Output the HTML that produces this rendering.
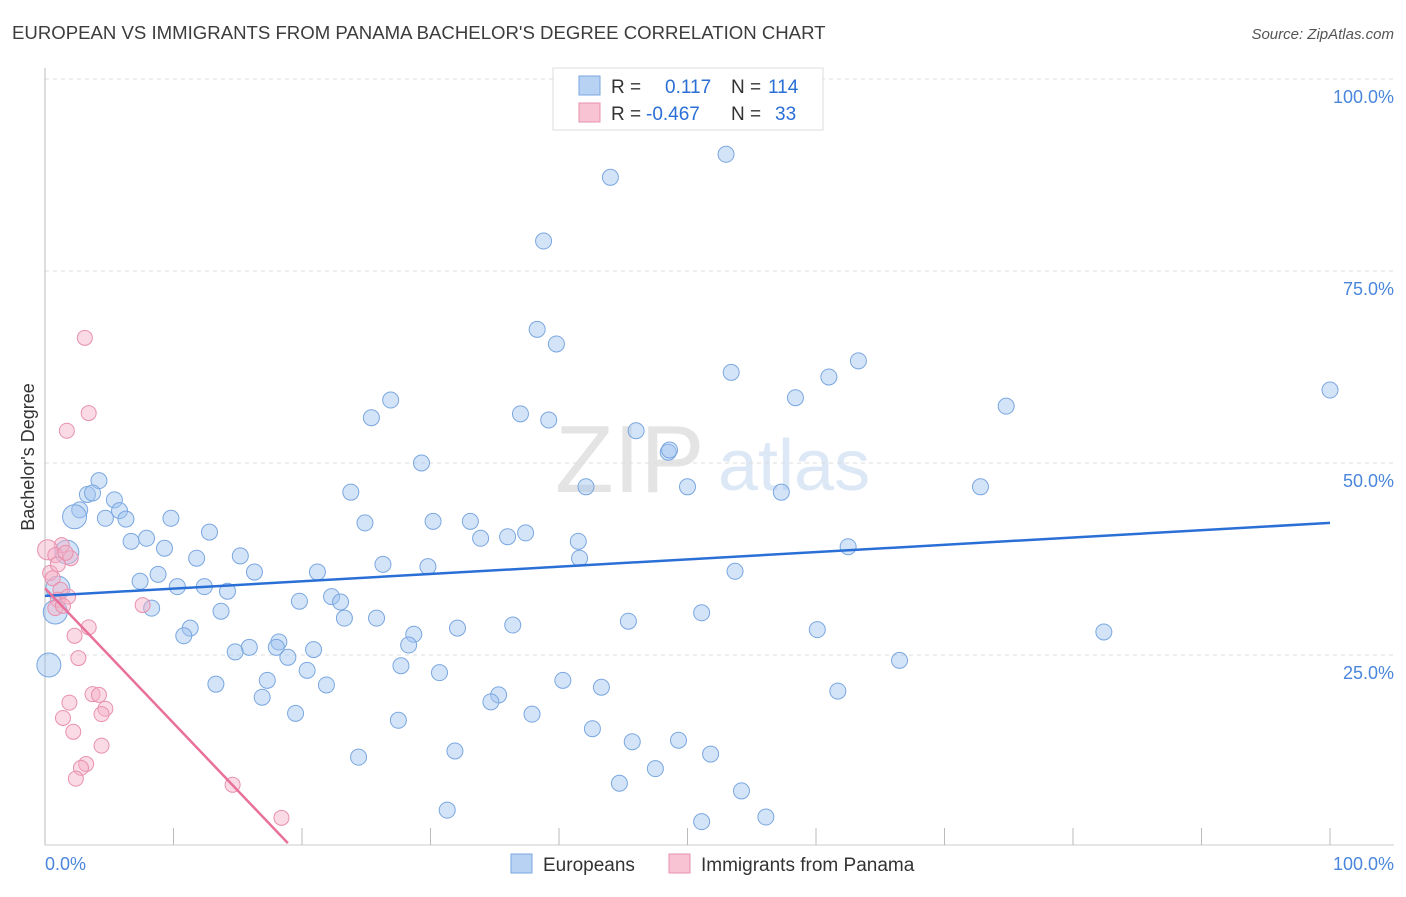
<!DOCTYPE html>
<html><head><meta charset="utf-8">
<style>
body{margin:0;background:#fff;font-family:"Liberation Sans",sans-serif;}
svg text{font-family:"Liberation Sans",sans-serif;}
</style></head>
<body>
<svg id="chart" width="1406" height="892" viewBox="0 0 1406 892" xmlns="http://www.w3.org/2000/svg">
<text x="12" y="39" font-size="18.6" fill="#3c3c3c">EUROPEAN VS IMMIGRANTS FROM PANAMA BACHELOR'S DEGREE CORRELATION CHART</text>
<text x="1394" y="39" font-size="15" fill="#555" font-style="italic" text-anchor="end">Source: ZipAtlas.com</text>
<text x="555" y="492" font-size="96" fill="#e4e4e4" font-family="Liberation Serif">ZIP</text>
<text x="718" y="490" font-size="72" fill="#dde8f6">atlas</text>
<text transform="translate(34,457) rotate(-90)" font-size="18" fill="#333" text-anchor="middle">Bachelor's Degree</text>
<g id="grid"></g>
<g id="axes"></g>
<g id="marks"></g>
<g>
<rect x="553" y="68" width="270" height="62" fill="#fff" stroke="#ddd"/>
<rect x="579" y="76" width="21" height="19" fill="#b8d2f4" stroke="#7aa7e0"/>
<rect x="579" y="103" width="21" height="19" fill="#f8c4d4" stroke="#e890ad"/>
<text x="611" y="93" font-size="19" fill="#333">R =</text>
<text x="665" y="93" font-size="19" fill="#2a6fd6">0.117</text>
<text x="731" y="93" font-size="19" fill="#333">N =</text>
<text x="768" y="93" font-size="19" fill="#2a6fd6">114</text>
<text x="611" y="120" font-size="19" fill="#333">R =</text>
<text x="646" y="120" font-size="19" fill="#2a6fd6">-0.467</text>
<text x="731" y="120" font-size="19" fill="#333">N =</text>
<text x="775" y="120" font-size="19" fill="#2a6fd6">33</text>
</g>
<g>
<rect x="511" y="854" width="21" height="19" fill="#b8d2f4" stroke="#7aa7e0"/>
<text x="543" y="871" font-size="19" fill="#333">Europeans</text>
<rect x="669" y="854" width="21" height="19" fill="#f8c4d4" stroke="#e890ad"/>
<text x="701" y="871" font-size="19" fill="#333">Immigrants from Panama</text>
</g>
</svg>
<script>
const blueX=[53.0,44.0,38.8,38.3,39.8,63.3,53.4,61.0,100,26.9,58.4,74.8,25.4,37.0,39.2,46.0,48.5,48.6,29.3,4.2,42.1,50.0,72.8,57.3,23.8,3.3,3.7,5.4,2.7,2.3,5.8,4.7,6.3,9.8,30.2,33.1,24.9,12.8,33.9,36.0,37.4,6.7,7.9,41.5,62.5,9.3,1.7,15.2,11.8,41.6,26.3,29.8,16.3,21.2,53.7,8.8,7.4,10.3,12.4,14.2,1.0,22.3,23.0,19.8,8.3,13.7,51.1,0.8,23.3,25.8,45.4,36.4,32.1,11.3,60.1,82.4,10.8,28.7,18.2,15.9,18.0,28.3,20.9,14.8,18.9,66.5,0.3,27.7,20.4,30.7,17.3,40.3,13.3,21.9,43.3,61.7,35.3,34.7,16.9,19.5,37.9,27.5,42.6,45.7,49.3,31.9,51.8,24.4,47.5,44.7,54.2,31.3,51.1,56.1];
const blueY=[90.2,87.2,78.9,67.4,65.5,63.3,61.8,61.2,59.5,58.2,58.5,57.4,55.9,56.4,55.6,54.2,51.4,51.7,50.0,47.7,46.9,46.9,46.9,46.2,46.2,45.9,46.1,45.2,43.9,43.0,43.8,42.8,42.7,42.8,42.4,42.4,42.2,41.0,40.2,40.4,40.9,39.8,40.2,39.8,39.1,38.9,38.4,37.9,37.6,37.6,36.8,36.5,35.8,35.8,35.9,35.5,34.6,33.9,33.9,33.3,33.7,32.6,31.9,32.0,31.1,30.7,30.5,30.6,29.8,29.8,29.4,28.9,28.5,28.5,28.3,28.0,27.5,27.7,26.7,26.0,26.0,26.3,25.7,25.4,24.7,24.3,23.7,23.6,23.0,22.7,21.7,21.7,21.2,21.1,20.8,20.3,19.8,18.9,19.5,17.4,17.3,16.5,15.4,13.7,13.9,12.5,12.1,11.7,10.2,8.3,7.3,4.8,3.3,3.9];
const blueBig=[29,46,60,67,86];
const pinkX=[3.1,3.4,1.7,1.3,0.2,0.8,2.0,0.4,0.6,1.2,1.0,1.8,0.8,7.6,3.4,2.3,2.6,3.7,4.2,1.9,4.7,4.4,1.4,2.2,4.4,3.2,2.8,2.4,14.6,18.4,1.4,1.6,1.0];
const pinkY=[66.3,56.5,54.2,39.3,38.7,38.0,37.6,35.7,35.0,33.5,32.2,32.6,31.1,31.5,28.6,27.5,24.6,19.9,19.8,18.8,18.0,17.3,16.8,15.0,13.2,10.8,10.3,8.9,8.1,3.8,31.4,38.3,36.8];
const blueTrend=[32.7,42.2];
const pinkTrend=[33.7,0.5];
const pinkTrendEnd=18.9;
const yTicks=[25,50,75,100];
const yTickLabels=["25.0%","50.0%","75.0%","100.0%"];
const xTicks=[0,10,20,30,40,50,60,70,80,90,100];

const NS="http://www.w3.org/2000/svg";
const X=v=>45+v*12.85;
const Y=v=>847-v*7.68;
function mk(tag,attrs,parent){const e=document.createElementNS(NS,tag);for(const k in attrs)e.setAttribute(k,attrs[k]);parent.appendChild(e);return e;}
const grid=document.getElementById('grid'),axes=document.getElementById('axes'),marks=document.getElementById('marks');
yTicks.forEach((t,i)=>{
  const l=mk('line',{x1:45,x2:1394,y1:Y(t),y2:Y(t),stroke:'#ddd','stroke-dasharray':'4,4'},grid);
  
  
  const tx=mk('text',{x:1394,y:Y(t)+24,'font-size':18,fill:'#4a86dc','text-anchor':'end'},axes);
  tx.textContent=yTickLabels[i];
  
  
});
let a=mk('line',{x1:45,x2:45,y1:68,y2:845,stroke:'#bbb'},axes);


a=mk('line',{x1:45,x2:1394,y1:845,y2:845,stroke:'#ccc'},axes);


xTicks.forEach(t=>{
  const l=mk('line',{x1:X(t),x2:X(t),y1:828,y2:845,stroke:'#bbb'},axes);
  
  
});
let t0=mk('text',{x:45,y:870,'font-size':18,fill:'#4a86dc'},axes);t0.textContent="0.0%";


let t1=mk('text',{x:1394,y:870,'font-size':18,fill:'#4a86dc','text-anchor':'end'},axes);t1.textContent="100.0%";


blueX.forEach((x,i)=>{
  const c=mk('circle',{cx:X(x),cy:Y(blueY[i]),r:blueBig.includes(i)?12:8,fill:'rgba(160,196,240,0.45)',stroke:'#7aa7e0','stroke-width':1},marks);
  
  
});
pinkX.forEach((x,i)=>{
  const c=mk('circle',{cx:X(x),cy:Y(pinkY[i]),r:i===4?10:7.5,fill:'rgba(245,176,198,0.45)',stroke:'#e890ad','stroke-width':1},marks);
  
  
});
let bl=mk('line',{x1:X(0),y1:Y(blueTrend[0]),x2:X(100),y2:Y(blueTrend[1]),stroke:'#2a6fd6','stroke-width':2.5},marks);


let pl=mk('line',{x1:X(0),y1:Y(pinkTrend[0]),x2:X(pinkTrendEnd),y2:Y(pinkTrend[1]),stroke:'#e8709a','stroke-width':2.5},marks);


</script>
</body></html>
